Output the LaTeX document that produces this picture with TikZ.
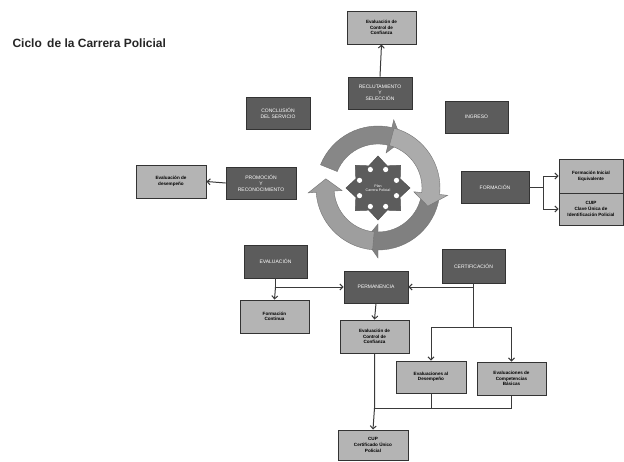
\documentclass[tikz,border=0pt]{standalone}
\usepackage{fontspec}
\setmainfont{Liberation Sans}
\usetikzlibrary{arrows.meta}
\definecolor{boxdark}{HTML}{5C5C5C}
\definecolor{boxlight}{HTML}{B4B4B4}
\definecolor{linecol}{HTML}{3A3A3A}
\newcommand\cycarrow[2]{%
  \fill[#2,draw=black!55,line width=0.4pt]
    ({#1+95}:62pt) arc[start angle={#1+95}, end angle={#1+14}, radius=62pt]
    -- ({#1+14}:70pt) -- ({#1}:53pt) -- ({#1+14}:36pt) -- ({#1+14}:44pt)
    arc[start angle={#1+14}, end angle={#1+95}, radius=44pt] -- cycle;}
\begin{document}
\begin{tikzpicture}[x=1pt,y=-1pt,
  darkbox/.style={rectangle, fill=boxdark, draw=black!80, line width=0.9pt,
    text=white, font=\fontsize{5}{6}\selectfont, align=center, inner sep=0pt},
  lightbox/.style={rectangle, fill=boxlight, draw=black!80, line width=1pt,
    text=black, font=\bfseries\fontsize{4.6}{5.6}\selectfont, align=center, inner sep=0pt},
  conn/.style={draw=linecol, line width=1pt},
  arr/.style={conn, -{Straight Barb[length=3pt,width=6pt]}}]
\useasboundingbox (0,0) rectangle (624,461);
\fill[white] (0,0) rectangle (624,461);

\node[anchor=west, font=\bfseries\fontsize{12}{14}\selectfont, text=black!85] (title) at (9,43) {Ciclo \,de la Carrera Policial};

% top
\node[lightbox, minimum width=69pt, minimum height=33pt] (topEval) at (381.5,27.5) {Evaluación de\\Control de\\Confianza};
\node[darkbox, minimum width=64pt, minimum height=32pt] (recl) at (380,93) {RECLUTAMIENTO\\Y\\SELECCIÓN};
\node[darkbox, minimum width=64pt, minimum height=32pt] (concl) at (278,113) {CONCLUSIÓN\\DEL SERVICIO};
\node[darkbox, minimum width=63pt, minimum height=32pt] (ingreso) at (476.5,117) {INGRESO};

% left
\node[darkbox, minimum width=70pt, minimum height=32pt] (promo) at (261,183) {PROMOCIÓN\\Y\\RECONOCIMIENTO};
\node[lightbox, minimum width=70pt, minimum height=33pt] (evalDes) at (171,181.5) {Evaluación de\\desempeño};

% right
\node[darkbox, minimum width=68pt, minimum height=32pt] (formacion) at (495,187) {FORMACIÓN};
\node[lightbox, minimum width=64pt, minimum height=34pt] (formIni) at (591,176) {Formación Inicial\\Equivalente};
\node[lightbox, minimum width=64pt, minimum height=32pt] (cuip) at (591,209) {CUIP\\Clave Única de\\Identificación Policial};

% lower
\node[darkbox, minimum width=63pt, minimum height=33pt] (evaluacion) at (275.5,261.5) {EVALUACIÓN};
\node[darkbox, minimum width=64pt, minimum height=32pt] (perman) at (376,287) {PERMANENCIA};
\node[darkbox, minimum width=63pt, minimum height=34pt] (certif) at (473.5,266) {CERTIFICACIÓN};
\node[lightbox, minimum width=69pt, minimum height=33pt] (formCont) at (274.5,316.5) {Formación\\Continua};
\node[lightbox, minimum width=69pt, minimum height=33pt] (evalCC) at (374.5,336.5) {Evaluación de\\Control de\\Confianza};
\node[lightbox, minimum width=70pt, minimum height=32pt] (evalDesemp) at (431,377) {Evaluaciones al\\Desempeño};
\node[lightbox, minimum width=69pt, minimum height=33pt] (evalComp) at (511.5,378.5) {Evaluaciones de\\Competencias\\Básicas};
\node[lightbox, minimum width=70pt, minimum height=30pt] (cup) at (373,445) {CUP\\Certificado Único\\Policial};

% cycle
\begin{scope}[shift={(378,188)}]
  \cycarrow{-104}{black!50}
  \cycarrow{170}{black!38}
  \cycarrow{63}{black!47}
  \cycarrow{-20}{black!33}
  \fill[boxdark,draw=black!70,line width=0.5pt] (45:32pt) -- (67.5:24pt) -- (90:32pt) -- (112.5:24pt) -- (135:32pt) -- (157.5:24pt) -- (180:32pt) -- (202.5:24pt) -- (225:32pt) -- (247.5:24pt) -- (270:32pt) -- (292.5:24pt) -- (315:32pt) -- (337.5:24pt) -- (0:32pt) -- (22.5:24pt) -- cycle;
  \foreach \a in {22.5,67.5,...,337.5} \fill[white] (\a:20pt) circle[radius=2.6pt];
  \node[text=white, font=\fontsize{3.6}{4.2}\selectfont, align=center, inner sep=0pt] (star) at (0,0) {Plan\\Carrera Policial};
\end{scope}

% connectors
\draw[arr] (recl.north) -- (topEval.south);
\draw[arr] (promo.west) -- (evalDes.east);

\coordinate (fj) at (543,187);
\draw[conn] (formacion.east) -- (fj);
\draw[arr] (fj) |- (formIni.west);
\draw[arr] (fj) |- (cuip.west);

\coordinate (ej) at (275.5,287);
\draw[conn] (evaluacion.south) -- (ej);
\draw[arr] (ej) -- (perman.west);
\draw[arr] (ej) -- (formCont.north);

\coordinate (cj) at (473.5,287);
\coordinate (cd) at (473.5,327);
\coordinate (cL) at (431,327);
\coordinate (cR) at (511.5,327);
\draw[conn] (certif.south) -- (cj) -- (cd);
\draw[arr] (cj) -- (perman.east);
\draw[conn] (cL) -- (cR);
\draw[arr] (cL) -- (evalDesemp.north);
\draw[arr] (cR) -- (evalComp.north);

\draw[arr] (perman.south) -- (evalCC.north);

\coordinate (bL) at (374.5,408);
\coordinate (bM) at (431,408);
\coordinate (bR) at (511.5,408);
\draw[conn] (evalDesemp.south) -- (bM);
\draw[conn] (evalComp.south) -- (bR) -- (bL);
\draw[arr] (evalCC.south) -- (bL) -- (cup.north);
\end{tikzpicture}
\end{document}
